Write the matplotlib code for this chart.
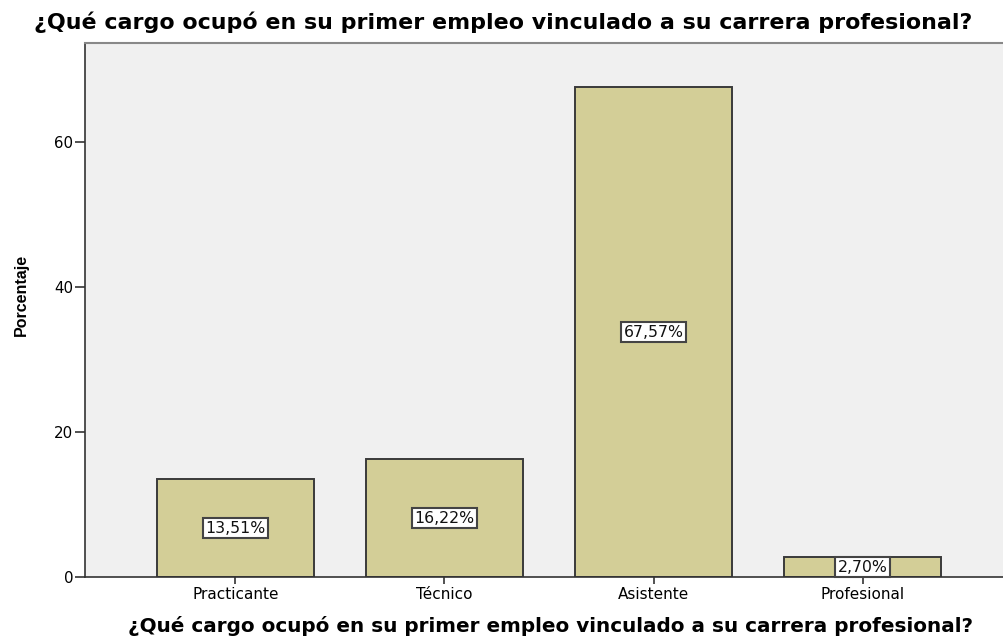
import matplotlib
matplotlib.use("Agg")
import matplotlib.pyplot as plt
from matplotlib import font_manager

categories = ["Practicante", "Técnico", "Asistente", "Profesional"]
values = [13.51, 16.22, 67.57, 2.70]
labels = ["13,51%", "16,22%", "67,57%", "2,70%"]
yticks = [0, 20, 40, 60]
title = "¿Qué cargo ocupó en su primer empleo vinculado a su carrera profesional?"

plt.rcParams['font.family'] = ['DejaVu Sans']
names = {f.name for f in font_manager.fontManager.ttflist}
narrow = 'Liberation Sans Narrow' if 'Liberation Sans Narrow' in names else 'Liberation Sans'

W, H = 1004, 637
fig = plt.figure(figsize=(W/100, H/100), dpi=100)
fig.patch.set_facecolor('white')
left, right, top, bottom = 85, 1013, 43, 577
ax = fig.add_axes([left/W, 1-bottom/H, (right-left)/W, (bottom-top)/H])
ax.set_facecolor('#F0F0F0')

x = list(range(len(categories)))
ax.bar(x, values, width=0.75, color='#D3CE97', edgecolor='#3A3A3A', linewidth=1.4, zorder=2)
ax.set_xlim(-0.72, len(categories) - 1 + 0.72)
ax.set_ylim(0, 73.7)

for xi, v, lab in zip(x, values, labels):
    ax.text(xi, v/2, lab, ha='center', va='center', fontsize=11.3, color='#111111', zorder=3,
            bbox=dict(boxstyle='square,pad=0.15', facecolor='white', edgecolor='#444444', linewidth=1.5))

ax.set_xticks(x)
ax.set_xticklabels(categories, fontsize=11)
ax.set_yticks(yticks)
ax.set_yticklabels([str(t) for t in yticks], fontsize=10.8)
ax.tick_params(axis='y', direction='out', length=7.5, width=1.2, color='#333333', pad=1)
ax.tick_params(axis='x', direction='out', length=5, width=1.2, color='#333333', pad=2)

ax.spines['right'].set_visible(False)
ax.spines['top'].set_color('#888888')
ax.spines['top'].set_linewidth(1.5)
ax.spines['left'].set_color('#333333')
ax.spines['bottom'].set_color('#333333')
ax.spines['left'].set_linewidth(1.2)
ax.spines['bottom'].set_linewidth(1.2)

fig.text(503/W, 1-22/H, title, ha='center', va='center', fontsize=15.9, fontweight='bold')
fig.text(551/W, 1-626/H, title, ha='center', va='center', fontsize=14.4, fontweight='bold')
fig.text(21/W, 1-295/H, "Porcentaje", ha='center', va='center', rotation=90, fontsize=11.5,
         fontweight='bold', family=narrow)

fig.savefig('out.png', dpi=100, facecolor='white')
